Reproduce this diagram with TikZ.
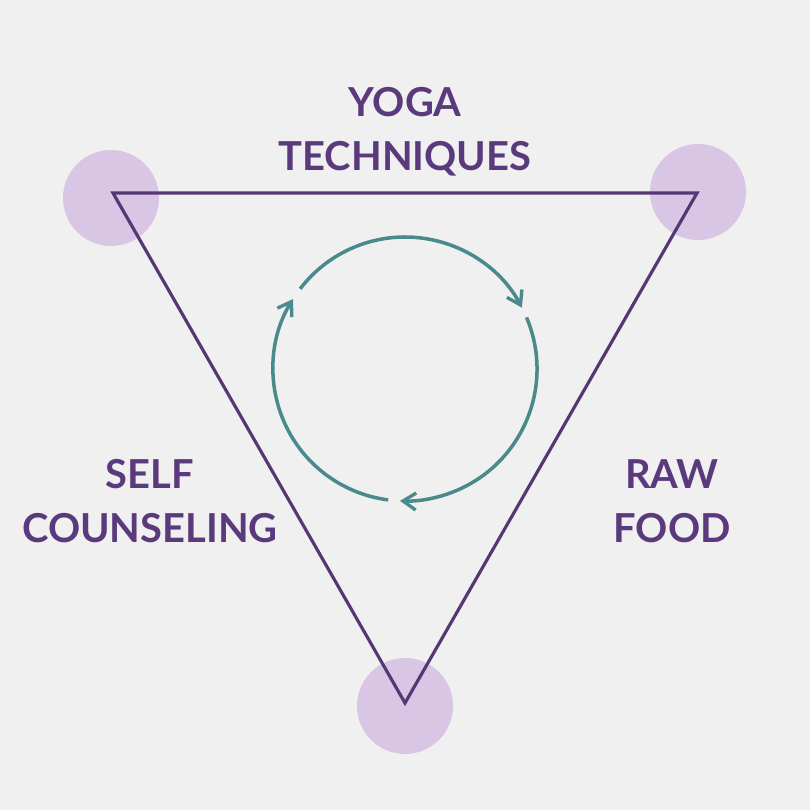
\documentclass[tikz,border=0pt]{standalone}
\usepackage{fontspec}
\setmainfont{Lato}
\usepackage{xcolor}
\usetikzlibrary{arrows.meta,positioning}

\definecolor{paperGray}{HTML}{F0F0F0}
\definecolor{edgePurple}{HTML}{553873}
\definecolor{textPurple}{HTML}{5A3A7C}
\definecolor{softLilac}{HTML}{D8C6E4}
\definecolor{cycleTeal}{HTML}{4A8A8C}

\begin{document}
\begin{tikzpicture}[
			% Lilac discs behind the corners
			cornerDisc/.style={
				circle,
				fill=softLilac,
				minimum size=1.92cm,
				inner sep=0pt
			},
			edgeLine/.style={
				draw=edgePurple,
				line width=1.8pt,
				line join=miter
			},
			cycleArc/.style={
				-{Straight Barb[length=2.6mm,width=3.4mm,line width=1.9pt]},
				cycleTeal,
				line width=2pt
			},
			topicLabel/.style={
				align=center,
				inner sep=0pt,
				anchor=north,
				text=textPurple,
				font=\fontsize{22.7}{31}\selectfont\bfseries
			}
			]
			
			% Paper background
			\fill[paperGray] (0,0) rectangle (16.2,16.2);
			
			% Triangle corners
			\coordinate (topLeft)  at (2.26,12.34);
			\coordinate (topRight) at (13.94,12.34);
			\coordinate (bottom)   at (8.10,2.14);
			
			\node[cornerDisc] (discLeft)   at (2.22,12.24) {};
			\node[cornerDisc] (discRight)  at (13.96,12.36) {};
			\node[cornerDisc] (discBottom) at (8.10,2.08) {};
			
			% Triangle
			\draw[edgeLine] (topLeft) -- (topRight) -- (bottom) -- cycle;
			
			% Cycle of three arcs
			\coordinate (loopCentre) at (8.10,8.82);
			
			\draw[cycleArc] ([shift={(142.6:2.64)}]loopCentre)
			arc[start angle=142.6, end angle=27.7, radius=2.64];
			\draw[cycleArc] ([shift={(23:2.64)}]loopCentre)
			arc[start angle=23, end angle=-92.2, radius=2.64];
			\draw[cycleArc] ([shift={(-97.3:2.64)}]loopCentre)
			arc[start angle=-97.3, end angle=-212, radius=2.64];
			
			% Labels
			\node[topicLabel] (yoga) at (8.10,14.46)
			{YOGA\\TECHNIQUES};
			
			\node[topicLabel] (self) at (3.00,7.02)
			{SELF\\COUNSELING};
			
			\node[topicLabel] (raw) at (13.44,7.02)
			{RAW\\FOOD};
			
		\end{tikzpicture}
\end{document}
